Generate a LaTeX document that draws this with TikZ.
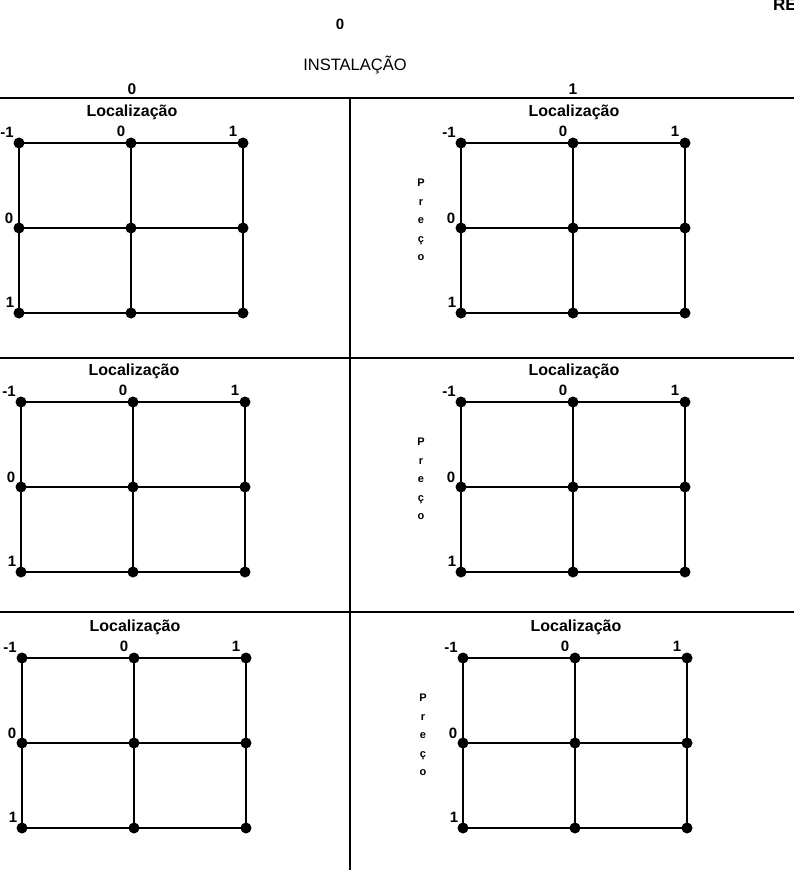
\documentclass[tikz,border=0pt]{standalone}
\usepackage{fontspec}
\setmainfont{Liberation Sans}
\newcommand{\gridpanel}[3]{%
  \node[dot] (#1-11) at (#2,#3) {};
  \node[dot] (#1-12) at (#2+112,#3) {};
  \node[dot] (#1-13) at (#2+224,#3) {};
  \node[dot] (#1-21) at (#2,#3+85) {};
  \node[dot] (#1-22) at (#2+112,#3+85) {};
  \node[dot] (#1-23) at (#2+224,#3+85) {};
  \node[dot] (#1-31) at (#2,#3+170) {};
  \node[dot] (#1-32) at (#2+112,#3+170) {};
  \node[dot] (#1-33) at (#2+224,#3+170) {};
  \draw[outerline] (#1-11.center) -- (#1-13.center) -- (#1-33.center) -- (#1-31.center) -- cycle;
  \draw[innerline] (#1-12.center) -- (#1-32.center);
  \draw[innerline] (#1-21.center) -- (#1-23.center);
  \node[num] (#1-l11) at ([shift={(-12,-11)}]#1-11.center) {-1};
  \node[num] (#1-l12) at ([shift={(-10,-12)}]#1-12.center) {0};
  \node[num] (#1-l13) at ([shift={(-10,-12)}]#1-13.center) {1};
  \node[num] (#1-l21) at ([shift={(-10,-10)}]#1-21.center) {0};
  \node[num] (#1-l31) at ([shift={(-9,-11)}]#1-31.center) {1};
  \node[loc] (#1-loc) at ([shift={(1,-31)}]#1-12.center) {Localização};
}
\newcommand{\precolabel}[1]{%
  \node[preco] (#1-preco) at ([shift={(-40,77)}]#1-11.center) {P\\r\\e\\ç\\o};
}
\begin{document}
\begin{tikzpicture}[x=1pt,y=-1pt,
  sepline/.style={line width=2.8pt},
  dot/.style={circle,fill=black,inner sep=0pt,minimum size=11pt},
  outerline/.style={line width=1.9pt},
  innerline/.style={line width=2.8pt},
  num/.style={font=\fontsize{15}{16}\selectfont\bfseries,inner sep=0pt},
  loc/.style={font=\fontsize{16}{18}\selectfont\bfseries,inner sep=0pt},
  hdr/.style={font=\fontsize{16.5}{18}\selectfont,inner sep=0pt},
  preco/.style={font=\fontsize{11}{18.5}\selectfont\bfseries,align=center,inner sep=0pt}]
\useasboundingbox (0,0) rectangle (794,870);
% separators
\coordinate (h1l) at (0,98);   \coordinate (h1r) at (794,98);
\coordinate (h2l) at (0,358);  \coordinate (h2r) at (794,358);
\coordinate (h3l) at (0,612);  \coordinate (h3r) at (794,612);
\coordinate (vt) at (350,98);  \coordinate (vb) at (350,870);
\draw[sepline] (h1l) -- (h1r);
\draw[sepline] (h2l) -- (h2r);
\draw[sepline] (h3l) -- (h3r);
\draw[sepline] (vt) -- (vb);
% headers
\node[hdr,font=\fontsize{15}{18}\selectfont\bfseries] (top0) at (340,24) {0};
\node[hdr] (inst) at (355,65) {INSTALAÇÃO};
\node[num,font=\fontsize{15.5}{18}\selectfont\bfseries] (col0) at (132,89) {0};
\node[num,font=\fontsize{15.5}{18}\selectfont\bfseries] (col1) at (573,89) {1};
\node[hdr,font=\fontsize{17}{18}\selectfont\bfseries,anchor=base west] (re) at (773,10) {RE};
% panels
\gridpanel{A}{19}{143}
\gridpanel{B}{461}{143}
\gridpanel{C}{21}{402}
\gridpanel{D}{461}{402}
\gridpanel{E}{22}{658}
\gridpanel{F}{463}{658}
\precolabel{B}
\precolabel{D}
\precolabel{F}
\end{tikzpicture}
\end{document}
